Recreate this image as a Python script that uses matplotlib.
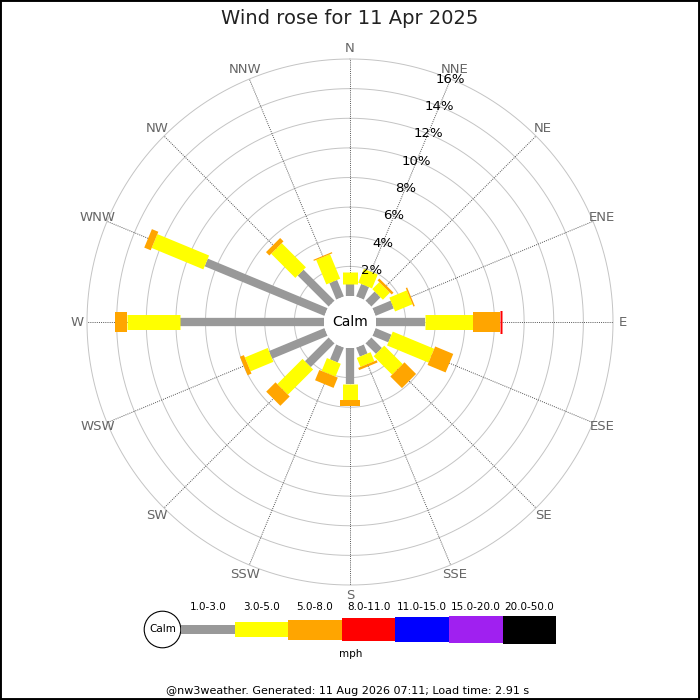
import numpy as np
import matplotlib
matplotlib.use("Agg")
import matplotlib.pyplot as plt
from matplotlib.patches import Rectangle, Circle

# ---------------- data ----------------
directions = ["N", "NNE", "NE", "ENE", "E", "ESE", "SE", "SSE",
              "S", "SSW", "SW", "WSW", "W", "WNW", "NW", "NNW"]
# percentage of time in each speed band, per direction
band_1_3 = [0.84, 0.91, 0.88, 1.33, 3.31, 1.16, 1.01, 0.66,
            2.41, 1.09, 2.27, 4.05, 9.73, 8.75, 2.96, 1.20]
band_3_5 = [0.80, 1.01, 0.67, 1.27, 3.22, 3.03, 1.76, 0.66,
            1.12, 0.94, 2.41, 1.67, 3.60, 3.78, 2.31, 1.79]
band_5_8 = [0.00, 0.00, 0.17, 0.10, 1.85, 1.32, 1.11, 0.16,
            0.41, 0.75, 0.89, 0.29, 0.79, 0.47, 0.32, 0.08]
band_8_11 = [0.00, 0.00, 0.00, 0.00, 0.11, 0.00, 0.00, 0.00,
             0.00, 0.00, 0.00, 0.00, 0.00, 0.00, 0.00, 0.00]
bands = [band_1_3, band_3_5, band_5_8, band_8_11]

legend_labels = ["1.0-3.0", "3.0-5.0", "5.0-8.0", "8.0-11.0",
                 "11.0-15.0", "15.0-20.0", "20.0-50.0"]
band_colors = ["#999999", "#ffff00", "#ffa500", "#ff0000",
               "#0000ff", "#a020f0", "#000000"]
ring_values = [2, 4, 6, 8, 10, 12, 14, 16]
title = "Wind rose for 11 Apr 2025"
footer = "@nw3weather. Generated: 11 Aug 2026 07:11; Load time: 2.91 s"

# ---------------- layout ----------------
W = H = 700
DPI = 100
fig = plt.figure(figsize=(W / DPI, H / DPI), dpi=DPI)
px2pt = 72.0 / DPI

cx, cy = 350, 322          # centre in pixels (from top)
R_out = 263                # outer ring radius in px
calm_px = 26               # calm circle radius in px
rmax = 16.0
scale = (R_out - calm_px) / rmax
r_origin = calm_px / scale

ax = fig.add_axes([(cx - R_out) / W, (H - cy - R_out) / H,
                   2 * R_out / W, 2 * R_out / H], projection="polar")
ax.set_theta_zero_location("N")
ax.set_theta_direction(-1)
ax.set_ylim(0, rmax)
ax.set_rorigin(-r_origin)
ax.set_axis_off()

theta_full = np.linspace(0, 2 * np.pi, 721)
for rv in ring_values:
    ax.plot(theta_full, np.full_like(theta_full, rv), color="#c4c4c4",
            lw=0.7, zorder=1, clip_on=False)

angles = np.deg2rad(np.arange(16) * 22.5)
for a in angles:
    ax.plot([a, a], [0, rmax], color="#555555", lw=0.7, ls=(0, (1, 1.2)),
            zorder=1, clip_on=False)

# bar widths in px (same as legend heights)
bar_px = [8.3, 15, 20, 23, 25, 27, 28]

cum = np.zeros(16)
for bi, band in enumerate(bands):
    vals = np.array(band)
    for i, a in enumerate(angles):
        if vals[i] <= 0:
            continue
        ax.plot([a, a], [cum[i], cum[i] + vals[i]], color=band_colors[bi],
                lw=bar_px[bi] * px2pt, solid_capstyle="butt", zorder=3 + bi,
                clip_on=False)
    cum = cum + vals

# ring labels along NNE
for rv in ring_values:
    ax.text(np.deg2rad(22.5), rv, f"{rv}%", ha="center", va="center",
            fontsize=9.5, color="#000000", zorder=10, clip_on=False)

# direction labels
for a, d in zip(angles, directions):
    ax.text(a, 16.68, d, ha="center", va="center", fontsize=9.5,
            color="#666666", clip_on=False)

# overlay axes in pixel coordinates
ov = fig.add_axes([0, 0, 1, 1])
ov.set_xlim(0, W)
ov.set_ylim(H, 0)
ov.set_axis_off()
ov.patch.set_alpha(0)

ov.add_patch(Circle((cx, cy), calm_px, facecolor="white", edgecolor="none", zorder=20))
ov.text(cx, cy, "Calm", ha="center", va="center", fontsize=10, zorder=21)

ov.text(350, 18, title, ha="center", va="center", fontsize=14, color="#222222")

# legend
lx0, lw_seg, ly = 181, 53.6, 629.5
ov.add_patch(Circle((162.5, ly), 18.3, facecolor="white", edgecolor="black", lw=0.8))
ov.text(162.5, ly, "Calm", ha="center", va="center", fontsize=7.5)
for i, (lab, col) in enumerate(zip(legend_labels, band_colors)):
    h = bar_px[i]
    ov.add_patch(Rectangle((lx0 + i * lw_seg, ly - h / 2), lw_seg, h,
                           facecolor=col, edgecolor="none"))
    ov.text(lx0 + (i + 0.5) * lw_seg, 607, lab, ha="center", va="center",
            fontsize=7.5)
ov.text(351, 654, "mph", ha="center", va="center", fontsize=7.5)

ov.text(348, 691, footer, ha="center", va="center", fontsize=8)

# border
fig.patches.append(Rectangle((0, 0), 1, 1, transform=fig.transFigure,
                             fill=False, edgecolor="black", lw=2.8))

fig.savefig("out.png", dpi=DPI)
